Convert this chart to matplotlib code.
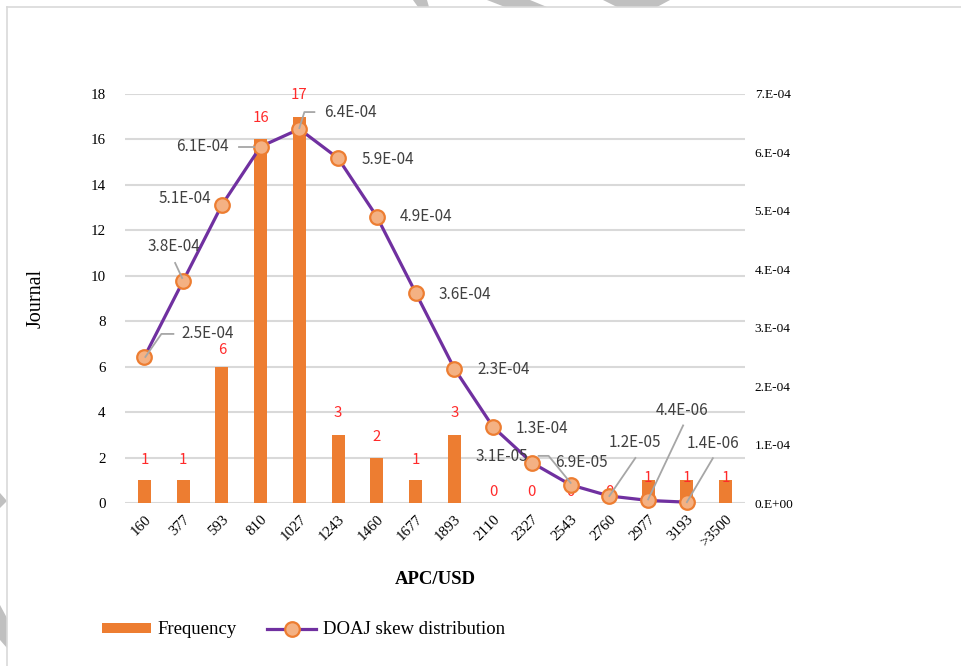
import matplotlib
matplotlib.use("Agg")
import matplotlib.pyplot as plt
from matplotlib.patches import Patch, Polygon
from matplotlib.lines import Line2D
from matplotlib.transforms import IdentityTransform

# ---- data ----
categories = ["160", "377", "593", "810", "1027", "1243", "1460", "1677",
              "1893", "2110", "2327", "2543", "2760", "2977", "3193", ">3500"]
frequency = [1, 1, 6, 16, 17, 3, 2, 1, 3, 0, 0, 0, 0, 1, 1, 1]
skew = [2.5e-4, 3.8e-4, 5.1e-4, 6.1e-4, 6.4e-4, 5.9e-4, 4.9e-4, 3.6e-4,
        2.3e-4, 1.3e-4, 6.9e-5, 3.1e-5, 1.2e-5, 4.4e-6, 1.4e-6]
left_ticks = [0, 2, 4, 6, 8, 10, 12, 14, 16, 18]
right_ticks = [0, 1e-4, 2e-4, 3e-4, 4e-4, 5e-4, 6e-4, 7e-4]
right_tick_labels = ["0.E+00", "1.E-04", "2.E-04", "3.E-04",
                     "4.E-04", "5.E-04", "6.E-04", "7.E-04"]

# ---- styling ----
W, H = 962, 666
BAR = "#ED7D31"
LINE = "#7030A0"
MFACE = "#F4B183"
GRID = "#D9D9D9"
LEADER = "#A6A6A6"
SERIF = ["Liberation Serif", "DejaVu Serif"]
LABEL_FONT = ["Noto Sans CJK SC", "DejaVu Sans"]

fig = plt.figure(figsize=(W / 100, H / 100), dpi=100)
fig.patch.set_facecolor("white")


def fx(px):
    return px / W


def fy(py):
    return 1 - py / H


# outer frame and faint grey swooshes at the page edges
fig.add_artist(Line2D([fx(7), fx(7)], [fy(7), 0], color=GRID, lw=1.2))
fig.add_artist(Line2D([fx(7), 1], [fy(7), fy(7)], color=GRID, lw=1.2))
swooshes = [
    [(413, 0), (427, 0), (429, 7), (418, 7)],
    [(487, 0), (530, 0), (547, 7), (505, 7)],
    [(603, 0), (670, 0), (657, 7), (617, 7)],
    [(0, 493), (7, 501), (0, 508)],
    [(0, 605), (7, 618), (7, 648), (0, 640)],
]
for poly in swooshes:
    fig.add_artist(Polygon([(fx(x), fy(y)) for x, y in poly], closed=True,
                           facecolor="#C0C0C0", edgecolor="none"))

# plot area
AX_L, AX_R, AX_T, AX_B = 125, 745, 94, 503
ax = fig.add_axes([fx(AX_L), fy(AX_B), (AX_R - AX_L) / W, (AX_B - AX_T) / H])
x = list(range(len(categories)))
ax.bar(x, frequency, width=0.34, color=BAR, zorder=2)
ax.set_xlim(-0.5, len(categories) - 0.5)
ax.set_ylim(0, 18)
ax.set_yticks(left_ticks)
ax.set_yticklabels([str(t) for t in left_ticks], fontfamily=SERIF, fontsize=10.8)
ax.set_xticks(x)
ax.set_xticklabels(categories, fontfamily=SERIF, fontsize=10.8, rotation=45,
                   ha="right", va="top", rotation_mode="anchor")
ax.tick_params(axis="x", length=0, pad=7)
ax.tick_params(axis="y", length=0, pad=14)
ax.grid(axis="y", color=GRID, lw=1.5, zorder=0)
for s in ax.spines.values():
    s.set_visible(False)
ax.set_axisbelow(True)
ax.set_xlabel("APC/USD", fontfamily=SERIF, fontsize=13.5, fontweight="bold",
              labelpad=16)
ax.set_ylabel("Journal", fontfamily=SERIF, fontsize=14.5)
ax.yaxis.set_label_coords((46 - AX_L) / (AX_R - AX_L), 0.5)

# red value labels above the bars
bar_dy = [20, 20, 17, 21, 22, 22, 21, 20, 22, 11, 11, 11, 11, 2, 2, 2]
for i, v in enumerate(frequency):
    ax.annotate(str(v), (i, v), xytext=(0, bar_dy[i]), textcoords="offset pixels",
                ha="center", va="center", color="#FF2A2A", fontsize=10.8,
                fontfamily=LABEL_FONT, zorder=3)

# skew distribution on the secondary axis
ax2 = ax.twinx()
ax2.set_ylim(0, 7e-4)
ax2.set_yticks(right_ticks)
ax2.set_yticklabels(right_tick_labels, fontfamily=SERIF, fontsize=9.6)
ax2.tick_params(axis="y", length=0, pad=7)
for s in ax2.spines.values():
    s.set_visible(False)
xs = list(range(len(skew)))
ax2.plot(xs, skew, color=LINE, lw=2.3, marker="o", markersize=10.5,
         markerfacecolor=MFACE, markeredgecolor=BAR, markeredgewidth=1.6,
         zorder=4, clip_on=False)

# point-label placement (pixel offsets from each point, y pointing down)
label_off = [(63, -23), (-9, -34), (-37, -7), (-58, 0), (51, -17), (50, 1),
             (49, 0), (49, 2), (49, 1), (49, 1), (50, 0), (-69, -28),
             (26, -53), (34, -90), (26, -59)]
leaders = {
    0: [(1, 0), (17, -23), (29, -23)],
    1: [(-8, -18), (-1, -3)],
    3: [(-22, 0), (-7, 0)],
    4: [(0, -1), (5, -17), (15, -17)],
    11: [(-32, -29), (-22, -29), (0, -2)],
    12: [(26, -38), (0, 0)],
    13: [(35, -75), (0, -1)],
    14: [(26, -44), (0, 0)],
}
for i, v in enumerate(skew):
    px, py = ax2.transData.transform((i, v))
    dx, dy = label_off[i]
    fig.text(px + dx, py - dy, f"{v:.1E}", transform=IdentityTransform(),
             ha="center", va="center", fontsize=11, color="#404040",
             fontfamily=LABEL_FONT, zorder=6)
    if i in leaders:
        pts = leaders[i]
        fig.add_artist(Line2D([px + a for a, b in pts], [py - b for a, b in pts],
                              transform=IdentityTransform(), color=LEADER,
                              lw=1.3, zorder=6))

# legend
handles = [
    Patch(facecolor=BAR, edgecolor="none"),
    Line2D([0], [0], color=LINE, lw=2.3, marker="o", markersize=10.5,
           markerfacecolor=MFACE, markeredgecolor=BAR, markeredgewidth=1.6),
]
fig.legend(handles, ["Frequency", "DOAJ skew distribution"], ncol=2,
           loc="center left", bbox_to_anchor=(fx(85), fy(630)), frameon=False,
           prop={"family": SERIF, "size": 13.5}, handlelength=2.6,
           handleheight=0.45, handletextpad=0.35, columnspacing=1.65)

fig.savefig("out.png", dpi=100)
